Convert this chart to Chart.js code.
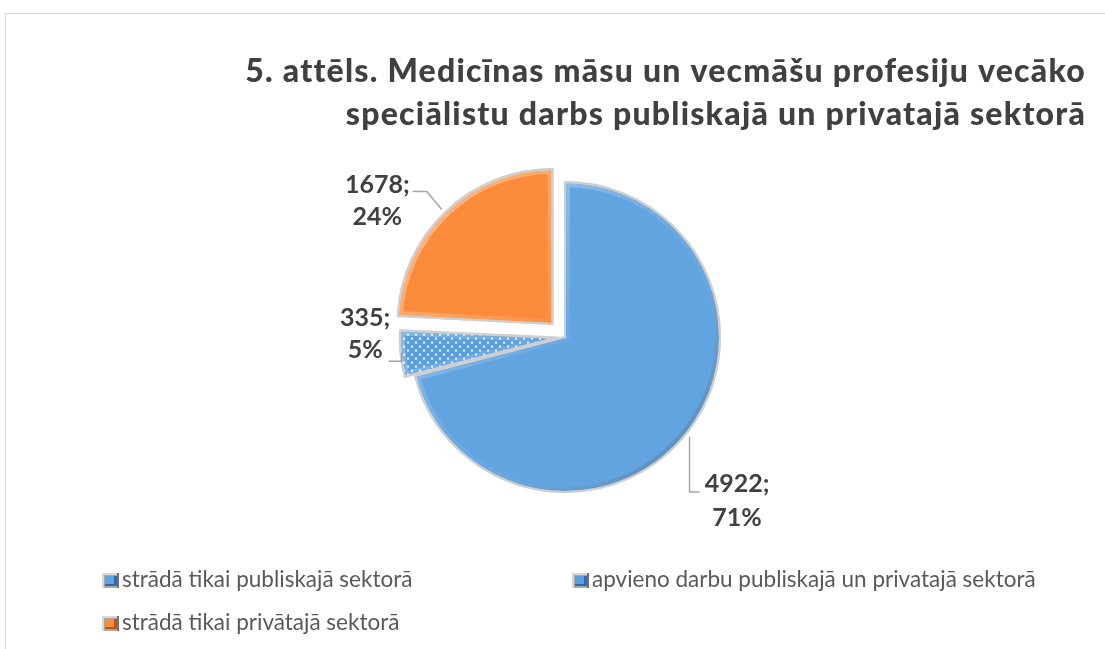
<!DOCTYPE html>
<html><head><meta charset="utf-8">
<script src="https://cdn.jsdelivr.net/npm/chart.js@4.4.0/dist/chart.umd.min.js"></script>
<style>html,body{margin:0;padding:0;background:#fff;} canvas{display:block}</style>
</head><body>
<canvas id="c" width="1105" height="649"></canvas>
<script>
// ---- data ----
const categories = ['strādā tikai publiskajā sektorā', 'apvieno darbu publiskajā un privatajā sektorā', 'strādā tikai privātajā sektorā'];
const counts = [4922, 335, 1678];
const titleLines = ['5. attēls. Medicīnas māsu un vecmāšu profesiju vecāko', 'speciālistu darbs publiskajā un privatajā sektorā'];

// ---- style ----
const BLUE = '#62A4E0', DOT_BLUE = '#5A9FE0', ORANGE = '#F98B3A';
const TEXT_DARK = '#404040', TEXT_LEG = '#595959';
const FONT = 'Lato, "Open Sans", sans-serif';

function dotPattern() {
  const p = document.createElement('canvas');
  p.width = 8; p.height = 8;
  const g = p.getContext('2d');
  g.fillStyle = DOT_BLUE; g.fillRect(0, 0, 8, 8);
  g.fillStyle = 'rgba(255,255,255,0.95)';
  g.fillRect(1, 1, 2, 2); g.fillRect(5, 5, 2, 2);
  return document.getElementById('c').getContext('2d').createPattern(p, 'repeat');
}

// label layout relative to slice outer-edge point (style only)
const labelLayout = [
  { leader: [[2, 5], [2, 60], [12, 60]], text: [49.5, 60], gap: 34 },
  { leader: [[1, -2], [1, 7.5], [-12, 7.5]], text: [-35.5, -27.6], gap: 32 },
  { leader: [[-4, -2], [-19, -20], [-33, -20]], text: [-68.5, -18.7], gap: 32 }
];
const legendPos = [[102, 587], [572, 587], [102, 630]];

const total = counts.reduce((a, b) => a + b, 0);

function arcGeom(arc) {
  const p = arc.getProps(['x', 'y', 'startAngle', 'endAngle', 'outerRadius', 'circumference'], true);
  const off = (arc.options.offset || 0) / 4;
  const fix = 1 - Math.sin(Math.min(Math.PI, p.circumference));
  const t = off * (1 + fix);
  const mid = (p.startAngle + p.endAngle) / 2;
  return { cx: p.x + Math.cos(mid) * t, cy: p.y + Math.sin(mid) * t, r: p.outerRadius, s: p.startAngle, e: p.endAngle, mid };
}

const framePlugin = {
  id: 'frame',
  beforeDraw(chart) {
    const ctx = chart.ctx;
    ctx.save();
    ctx.fillStyle = '#fff';
    ctx.fillRect(0, 0, chart.width, chart.height);
    ctx.strokeStyle = '#d9d9d9';
    ctx.lineWidth = 1;
    ctx.strokeRect(5.5, 13.5, 1200, 700);
    // title: fit first line to the reference width (838px)
    ctx.fillStyle = TEXT_DARK;
    ctx.font = '900 32px ' + FONT;
    const w = ctx.measureText(titleLines[0]).width;
    const ls = Math.max(0, (838 - w) / (titleLines[0].length - 1));
    try { ctx.letterSpacing = ls.toFixed(2) + 'px'; } catch (e) {}
    ctx.textAlign = 'right';
    ctx.textBaseline = 'alphabetic';
    ctx.fillText(titleLines[0], 1086, 82);
    ctx.fillText(titleLines[1], 1086, 125);
    try { ctx.letterSpacing = '0px'; } catch (e) {}
    ctx.restore();
  }
};

const bevelPlugin = {
  id: 'bevel',
  afterDatasetsDraw(chart) {
    const ctx = chart.ctx;
    const meta = chart.getDatasetMeta(0);
    meta.data.forEach((arc) => {
      const g = arcGeom(arc);
      ctx.save();
      ctx.beginPath();
      ctx.moveTo(g.cx, g.cy);
      ctx.arc(g.cx, g.cy, g.r, g.s, g.e);
      ctx.closePath();
      ctx.clip();
      const grad = ctx.createLinearGradient(g.cx - g.r, g.cy - g.r, g.cx + g.r, g.cy + g.r);
      grad.addColorStop(0, 'rgba(255,255,255,0.45)');
      grad.addColorStop(0.5, 'rgba(255,255,255,0.05)');
      grad.addColorStop(1, 'rgba(0,0,0,0.28)');
      ctx.strokeStyle = grad;
      ctx.lineWidth = 10;
      ctx.lineJoin = 'miter';
      ctx.stroke();
      ctx.restore();
      ctx.save();
      ctx.beginPath();
      ctx.moveTo(g.cx, g.cy);
      ctx.arc(g.cx, g.cy, g.r, g.s, g.e);
      ctx.closePath();
      ctx.strokeStyle = '#cfcfcf';
      ctx.lineWidth = 2;
      ctx.stroke();
      ctx.restore();
    });
  }
};

const labelPlugin = {
  id: 'sliceLabels',
  afterDatasetsDraw(chart) {
    const ctx = chart.ctx;
    const meta = chart.getDatasetMeta(0);
    ctx.save();
    meta.data.forEach((arc, i) => {
      const g = arcGeom(arc);
      const ex = g.cx + Math.cos(g.mid) * g.r, ey = g.cy + Math.sin(g.mid) * g.r;
      const L = labelLayout[i];
      ctx.strokeStyle = '#a6a6a6';
      ctx.lineWidth = 1.5;
      ctx.beginPath();
      L.leader.forEach((q, k) => { k ? ctx.lineTo(ex + q[0], ey + q[1]) : ctx.moveTo(ex + q[0], ey + q[1]); });
      ctx.stroke();
      const pct = Math.round(counts[i] / total * 100) + '%';
      ctx.fillStyle = TEXT_DARK;
      ctx.font = 'bold 25px ' + FONT;
      ctx.textAlign = 'center';
      ctx.textBaseline = 'alphabetic';
      ctx.fillText(counts[i] + ';', ex + L.text[0], ey + L.text[1]);
      ctx.fillText(pct, ex + L.text[0], ey + L.text[1] + L.gap);
    });
    ctx.restore();
  },
  afterDraw(chart) {
    const ctx = chart.ctx;
    const colors = [BLUE, DOT_BLUE, ORANGE];
    const dark = ['#2f6aa8', '#2f6aa8', '#b85a17'];
    ctx.save();
    categories.forEach((c, i) => {
      const [x, y] = legendPos[i];
      const top = y - 14;
      ctx.fillStyle = '#a8a8a8';
      ctx.fillRect(x, top, 17, 15);
      ctx.fillStyle = '#d8d8d8';
      ctx.fillRect(x, top, 17, 2);
      ctx.fillRect(x, top, 2, 15);
      ctx.fillStyle = dark[i];
      ctx.fillRect(x + 3, top + 3, 12, 10);
      ctx.fillStyle = colors[i];
      ctx.fillRect(x + 3, top + 3, 9, 8);
      ctx.fillStyle = '#6f6f6f';
      ctx.fillRect(x + 15, top, 2, 15);
      ctx.fillStyle = TEXT_LEG;
      ctx.font = '22.5px ' + FONT;
      ctx.textAlign = 'left';
      ctx.textBaseline = 'alphabetic';
      ctx.fillText(c, x + 20, y);
    });
    ctx.restore();
  }
};

new Chart(document.getElementById('c'), {
  type: 'pie',
  data: {
    labels: categories,
    datasets: [{
      data: counts,
      backgroundColor: [BLUE, dotPattern(), ORANGE],
      borderColor: '#d4d4d4',
      borderWidth: 2,
      offset: [0, 24, 72],
      radius: 155
    }]
  },
  options: {
    responsive: false,
    devicePixelRatio: 1,
    animation: false,
    layout: { padding: { left: 390, right: 365, top: 162, bottom: 137 } },
    plugins: { legend: { display: false }, tooltip: { enabled: false }, title: { display: false } }
  },
  plugins: [framePlugin, bevelPlugin, labelPlugin]
});
</script>
</body></html>
